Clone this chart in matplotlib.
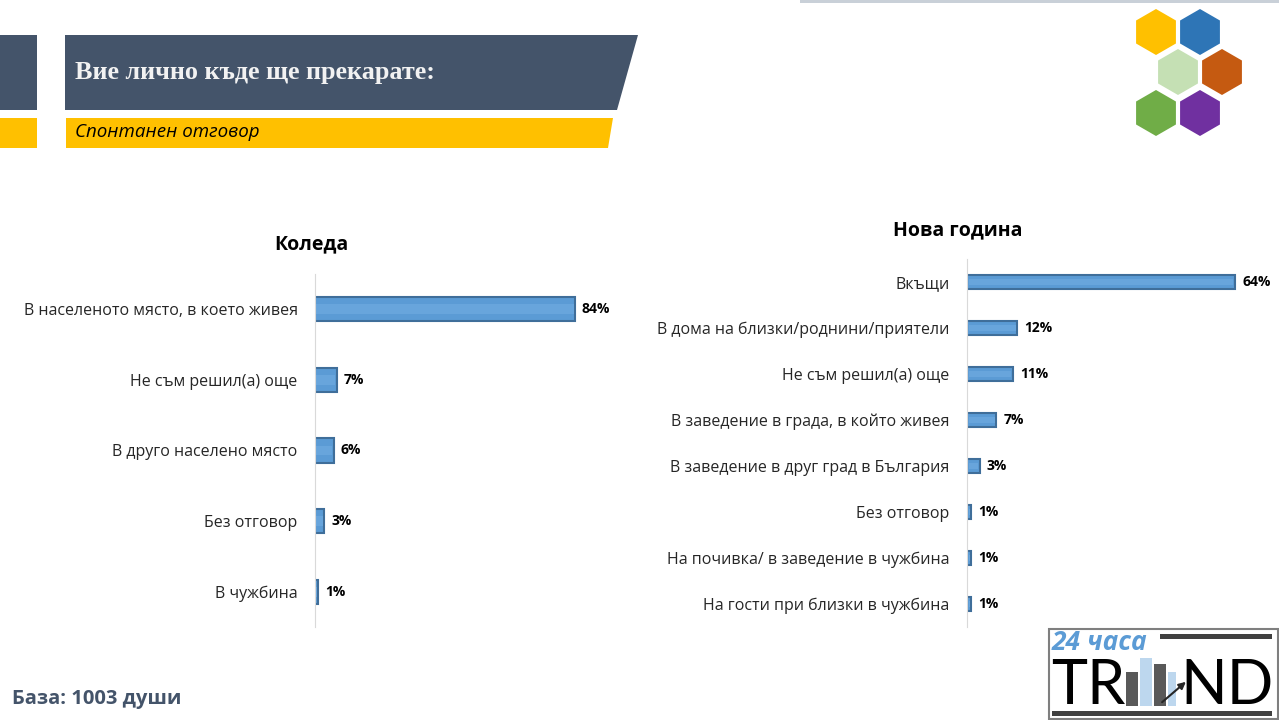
import numpy as np
import matplotlib.pyplot as plt
from matplotlib.patches import Polygon, RegularPolygon, Rectangle

plt.rcParams['font.family'] = ['Open Sans', 'DejaVu Sans']

# данни
koleda_labels = ['В населеното място, в което живея', 'Не съм решил(а) още',
                 'В друго населено място', 'Без отговор', 'В чужбина']
koleda_vals = [84, 7, 6, 3, 1]

nova_labels = ['Вкъщи', 'В дома на близки/роднини/приятели', 'Не съм решил(а) още',
               'В заведение в града, в който живея', 'В заведение в друг град в България',
               'Без отговор', 'На почивка/ в заведение в чужбина',
               'На гости при близки в чужбина']
nova_vals = [64, 12, 11, 7, 3, 1, 1, 1]

W, H = 1279, 720
fig = plt.figure(figsize=(W / 100, H / 100), dpi=100)
fig.set_facecolor('white')

# фон за рисуване в пиксели
bg = fig.add_axes([0, 0, 1, 1])
bg.set_xlim(0, W)
bg.set_ylim(H, 0)
bg.axis('off')

# горна лента
bg.add_patch(Polygon([(65, 35), (638, 35), (617, 110), (65, 110)], closed=True,
                     facecolor='#44546a', edgecolor='none'))
bg.add_patch(Rectangle((0, 35), 37, 75, facecolor='#44546a', edgecolor='none'))
bg.add_patch(Polygon([(66, 118), (613, 118), (608, 148), (66, 148)], closed=True,
                     facecolor='#ffc000', edgecolor='none'))
bg.add_patch(Rectangle((0, 118), 37, 30, facecolor='#ffc000', edgecolor='none'))
bg.text(75, 73, 'Вие лично къде ще прекарате:', color='#f2f2f2', fontsize=18.8,
        fontweight='bold', family='Liberation Serif', va='center', ha='left')
bg.text(75, 132, 'Спонтанен отговор', color='black', fontsize=13.5,
        style='italic', va='center', ha='left')

# тънка сива ивица горе вдясно
bg.add_patch(Rectangle((800, 0), 479, 3, facecolor='#c9d0d8', edgecolor='none'))

# шестоъгълници
hexes = [((1156, 32), '#ffc000'), ((1200, 32), '#2e75b6'),
         ((1178, 72), '#c5e0b4'), ((1222, 72), '#c55a11'),
         ((1156, 113), '#70ad47'), ((1200, 113), '#7030a0')]
for (cx, cy), col in hexes:
    bg.add_patch(RegularPolygon((cx, cy), 6, radius=23, orientation=0,
                                facecolor=col, edgecolor='none'))

# лого долу вдясно
bg.add_patch(Rectangle((1049, 629), 229, 90, facecolor='white',
                       edgecolor='#7f7f7f', linewidth=1.5))
bg.add_patch(Rectangle((1160, 634), 112, 5, facecolor='#404040', edgecolor='none'))
bg.add_patch(Rectangle((1052, 711), 220, 5, facecolor='#404040', edgecolor='none'))
bg.text(1052, 643, '24 часа', color='#5b9bd5', fontsize=19, fontweight='bold',
        style='italic', va='center', ha='left')
bg.text(1051, 686, 'TR', color='black', fontsize=44, va='center', ha='left',
        family='Lato')
bg.text(1274, 686, 'ND', color='black', fontsize=44, va='center', ha='right',
        family='Lato')
bg.add_patch(Rectangle((1126, 672), 12, 34, facecolor='#595959', edgecolor='none'))
bg.add_patch(Rectangle((1140, 658), 12, 48, facecolor='#bdd7ee', edgecolor='none'))
bg.add_patch(Rectangle((1154, 664), 12, 42, facecolor='#595959', edgecolor='none'))
bg.add_patch(Rectangle((1168, 672), 8, 34, facecolor='#bdd7ee', edgecolor='none'))
bg.annotate('', xy=(1188, 680), xytext=(1160, 704),
            arrowprops=dict(arrowstyle='-|>', color='#262626', lw=1.5))

bg.text(12, 699, 'База: 1003 души', color='#44546a', fontsize=14.5,
        fontweight='bold', va='center', ha='left')


def pix_axes(x0, y0, x1, y1):
    return fig.add_axes([x0 / W, 1 - y1 / H, (x1 - x0) / W, (y1 - y0) / H])


def draw_chart(ax, labels, vals, xmax, bar_h, title, title_y, title_x):
    y = np.arange(len(vals))
    ax.barh(y, vals, height=bar_h, color='#5b9bd5', edgecolor='#3f6e9a',
            linewidth=1.5)
    # светла ивица в средата за обемен вид
    ax.barh(y, [max(v - 0.8, 0) for v in vals], left=0.4, height=bar_h * 0.4,
            color='#68a5dc', edgecolor='none')
    ax.set_xlim(0, xmax)
    ax.set_ylim(len(vals) - 0.5, -0.5)
    ax.set_yticks(y)
    ax.set_yticklabels(labels, fontsize=11.5, color='#262626')
    ax.tick_params(axis='y', length=0, pad=12.5)
    ax.set_xticks([])
    for s in ['top', 'right', 'bottom']:
        ax.spines[s].set_visible(False)
    ax.spines['left'].set_color('#d9d9d9')
    for yi, v in zip(y, vals):
        ax.annotate(f'{v}%', (v, yi), xytext=(5, 0), textcoords='offset points',
                    va='center', ha='left', fontsize=10, fontweight='bold',
                    color='black', annotation_clip=False)
    bg.text(title_x, title_y, title, fontsize=14, fontweight='bold',
            ha='center', va='center', color='black')


ax1 = pix_axes(315, 274, 315 + 309.5, 627)
draw_chart(ax1, koleda_labels, koleda_vals, 100, 0.34, 'Коледа', 244, 311)

ax2 = pix_axes(967, 259, 967 + 419, 627)
draw_chart(ax2, nova_labels, nova_vals, 100, 0.3, 'Нова година', 230, 958)

plt.savefig('out.png', dpi=100)
